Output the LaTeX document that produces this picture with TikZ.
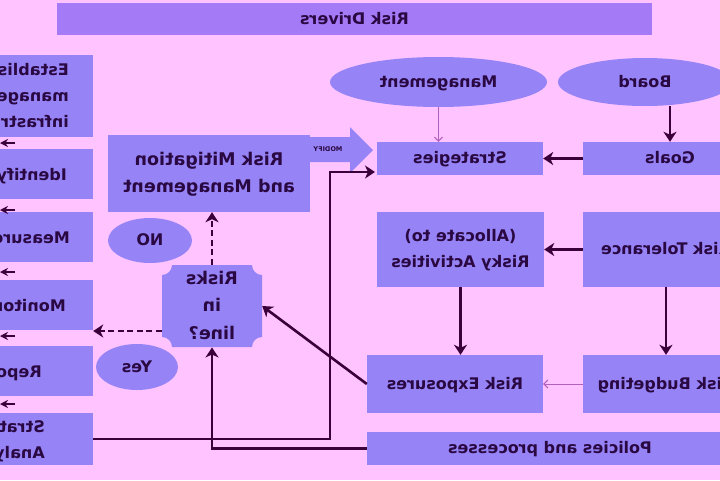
\documentclass[tikz,border=0pt]{standalone}
\usepackage{fontspec}
\setmainfont{DejaVu Sans Bold}
\usetikzlibrary{shapes.geometric,arrows.meta,calc}
\definecolor{bg}{RGB}{255,196,255}
\definecolor{boxc}{RGB}{150,132,247}
\definecolor{barc}{RGB}{165,122,246}
\definecolor{txt}{RGB}{42,8,66}
\definecolor{arrc}{RGB}{58,0,58}
\definecolor{thinc}{RGB}{178,96,190}
\newcommand{\mirr}[2][c]{\reflectbox{\begin{tabular}{@{}#1@{}}#2\end{tabular}}}
\begin{document}
\begin{tikzpicture}[x=1pt,y=-1pt,
  fnt/.style={font=\fontsize{16}{26}\selectfont, text=txt},
  big/.style={font=\fontsize{17.5}{27.5}\selectfont},
  box/.style={rectangle, fill=boxc, draw=none, inner sep=0pt, fnt},
  ell/.style={ellipse, fill=boxc, draw=none, inner sep=0pt, fnt},
  lbl/.style={inner sep=0pt, fnt},
  arr/.style={draw=arrc, line width=2.6pt, -{Stealth[length=10pt,width=13pt,inset=3pt]}},
  thinarr/.style={draw=thinc, line width=1pt, -{Straight Barb[length=4pt,width=8pt]}},
  dsh/.style={draw=arrc, line width=2.6pt, dash pattern=on 6pt off 3.5pt, -{Stealth[length=10pt,width=13pt,inset=3pt]}},
  stub/.style={draw=arrc, line width=2pt, -{Stealth[length=8pt,width=8pt]}}
]
\useasboundingbox (0,0) rectangle (720,480);
\clip (0,0) rectangle (720,480);
\fill[bg] (0,0) rectangle (720,480);

% top bar
\node[box, fill=barc, minimum width=595pt, minimum height=32pt] (drivers) at (354.5,19) {\mirr{Risk Drivers}};

% left column
\node[box, minimum width=183pt, minimum height=82pt] (est) at (1.5,96) {};
\node[box, minimum width=183pt, minimum height=50pt] (ident) at (1.5,174) {};
\node[box, minimum width=183pt, minimum height=50pt] (meas) at (1.5,237) {};
\node[box, minimum width=183pt, minimum height=50pt] (moni) at (1.5,305) {};
\node[box, minimum width=183pt, minimum height=50pt] (rep) at (1.5,371) {};
\node[box, minimum width=183pt, minimum height=52pt] (sa) at (1.5,439) {};
\node[lbl, anchor=east] (estT) at (69,96) {\mirr[l]{Establish\\management\\infrastructure}};
\node[lbl, anchor=east] (identT) at (67,175) {\mirr{Identify}};
\node[lbl, anchor=east] (measT) at (70,238) {\mirr{Measure}};
\node[lbl, anchor=east] (moniT) at (66,306) {\mirr{Monitor}};
\node[lbl, anchor=east] (repT) at (42,372) {\mirr{Report}};
\node[lbl, anchor=east] (saT) at (45,440) {\mirr[l]{Strategic\\Analysis}};

\foreach \yy/\nm in {143/a,210/b,272/c,336/d,404/e}{
  \coordinate (ms\nm) at (15,\yy);
  \coordinate (me\nm) at (0,\yy);
  \draw[stub] (ms\nm) -- (me\nm);
}

% middle
\node[box, big, minimum width=202pt, minimum height=77pt] (mitig) at (209,173.5) {\mirr{Risk Mitigation\\and Management}};
\fill[boxc] (172,265) -- (252,265) arc[start angle=180,end angle=90,radius=10]
  -- (262,337) arc[start angle=270,end angle=180,radius=10]
  -- (172,347) arc[start angle=0,end angle=-90,radius=10]
  -- (162,275) arc[start angle=90,end angle=0,radius=10] -- cycle;
\node[lbl, big, minimum width=100pt, minimum height=82pt] (risks) at (212,306) {\mirr{Risks\\in\\line?}};
\node[ell, minimum width=84pt, minimum height=45pt] (no) at (150,240.5) {\mirr{NO}};
\node[ell, minimum width=82pt, minimum height=46pt] (yes) at (137,367) {\mirr{Yes}};

% right part
\node[ell, minimum width=217pt, minimum height=50pt] (mgmt) at (438.5,82) {\mirr{Management}};
\node[ell, minimum width=174pt, minimum height=48pt] (board) at (645,82) {\mirr{Board}};
\node[box, minimum width=166pt, minimum height=33pt] (strat) at (460,158.5) {\mirr{Strategies}};
\node[box, minimum width=174pt, minimum height=33pt] (goals) at (670,158.5) {\mirr{Goals}};
\node[box, minimum width=167pt, minimum height=75pt] (alloc) at (460.5,249.5) {\mirr{(Allocate to)\\Risky Activities}};
\node[box, minimum width=166pt, minimum height=75pt] (tol) at (666,249.5) {\mirr{Risk Tolerance}};
\node[box, minimum width=176pt, minimum height=58pt] (expo) at (455,384) {\mirr{Risk Exposures}};
\node[box, minimum width=166pt, minimum height=58pt] (budget) at (666,384) {\mirr{Risk Budgeting}};
\node[box, minimum width=366pt, minimum height=33pt] (pol) at (550,448.5) {\mirr{Policies and processes}};

% modify block arrow
\fill[boxc] (305,137) -- (350,137) -- (350,127) -- (373,150) -- (350,173) -- (350,162) -- (305,162) -- cycle;
\node[inner sep=0pt, text=txt, font=\fontsize{6.5}{8}\selectfont] (modify) at (328,149.5) {\reflectbox{MODIFY}};

% connectors
\draw[arr] (goals.west) -- (strat.east);
\draw[arr] (board.south -| goals.north) -- (goals.north);
\draw[thinarr] (mgmt.south) -- (mgmt.south |- strat.north);
\draw[arr] (tol.west) -- (alloc.east);
\draw[arr] (alloc.south) -- (alloc.south |- expo.north);
\draw[arr] (tol.south) -- (budget.north);
\draw[thinarr] (budget.west) -- (expo.east);
\draw[arr] (expo.west) -- (risks.east);
\draw[arr] (pol.west) -| (risks.south);
\coordinate (c330) at (330,0);
\coordinate (sin) at (375,172);
\draw[arr] (sa.east) -| (c330 |- sin) -- (sin);
\draw[dsh] (risks.north) -- (risks.north |- mitig.south);
\coordinate (rw) at ($(risks.west)+(0,25)$);
\draw[dsh] (rw) -- (rw -| moni.east);
\end{tikzpicture}
\end{document}
